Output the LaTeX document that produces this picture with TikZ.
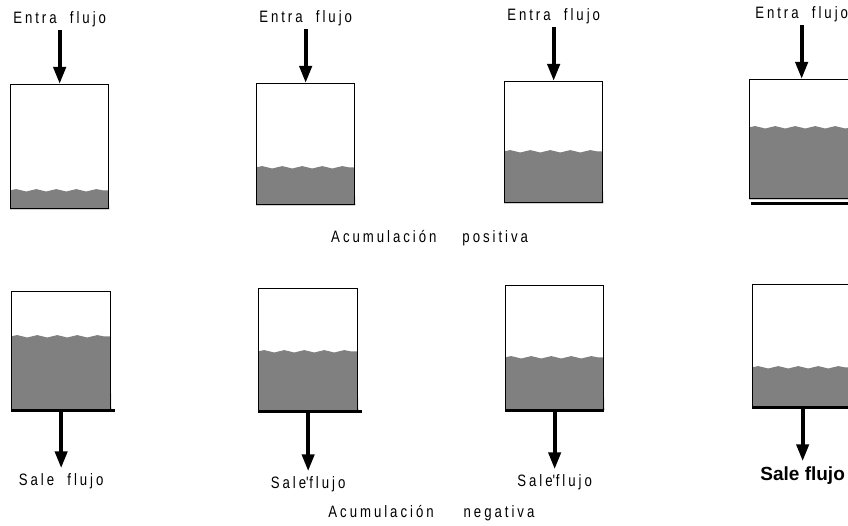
\documentclass[tikz,border=0pt]{standalone}
\usepackage{fontspec}
\setmainfont{Liberation Sans}
\newfontfamily\labfont[FakeStretch=0.8,LetterSpace=18,WordSpace=2]{Liberation Sans}
\usetikzlibrary{arrows.meta, positioning, calc, backgrounds, decorations.pathmorphing}
\tikzset{
    tank/.style={rectangle, draw=black, line width=1.3pt, inner sep=0pt, anchor=north west},
    fluid/.style={fill=black!50},
    lab/.style={font=\labfont\fontsize{16.5}{19}\selectfont, inner sep=0pt},
    flow/.style={line width=4pt, -{Triangle[width=12pt,length=17pt]}},
    base/.style={line width=3.5pt}
}

\begin{document}
\begin{tikzpicture}[x=1pt, y=1pt, node distance=57pt]
    \useasboundingbox (0,0) rectangle (848,525);
    % tanks: name/left/top/width/height/level
    \foreach \n/\x/\y/\w/\h/\l in {t1/10/441/98/124/19, t2/256/442/98/121/38,
        t3/504/444/98/121/52, t4/749/446/104/119/72, t5/11/234/99/118/74,
        t6/258/237/99/122/60, t7/505/240/98/124/53, t8/752/241/100/122/40}{
        \node[tank, minimum width=\w pt, minimum height=\h pt] (\n) at (\x,\y) {};
        \begin{scope}[on background layer]
            \fill[fluid] (\n.south west) -- ++(0,\l)
                decorate[decoration={snake, amplitude=1.2pt, segment length=20pt}]{-- ++(\w,0)}
                -- (\n.south east) -- cycle;
        \end{scope}
    }

    \node (in1) [lab, above=of t1] {Entra flujo};
    \node (in2) [lab, above=of t2] {Entra flujo};
    \node (in3) [lab, above=of t3] {Entra flujo};
    \node (in4) [lab, above=of t4] {Entra flujo};

    \node (out5) [lab, below=63pt of t5] {Sale flujo};
    \node (out6) [lab, below=65pt of t6] {Sale\textquotesingle flujo};
    \node (out7) [lab, below=64pt of t7] {Sale\textquotesingle flujo};
    \node (out8) [lab, below=59pt of t8, font=\bfseries\fontsize{19}{22}\selectfont] {Sale flujo};

    \node (accpos) [lab] at ($(t2.south)!.5!(t3.south)+(0,-34)$) {Acumulación\hspace{26pt}positiva};
    \node (accneg) [lab] at ($(t6.south)!.5!(t7.south)+(0,-102)$) {Acumulación\hspace{30pt}negativa};

    \draw [flow] ([yshift=-3pt]in1.south) -- (t1.north);
    \draw [flow] ([yshift=-3pt]in2.south) -- (t2.north);
    \draw [flow] ([yshift=-3pt]in3.south) -- (t3.north);
    \draw [flow] ([yshift=-3pt]in4.south) -- (t4.north);
    \draw [flow] (t5.south) -- ([yshift=5pt]out5.north);
    \draw [flow] (t6.south) -- ([yshift=5pt]out6.north);
    \draw [flow] (t7.south) -- ([yshift=5pt]out7.north);
    \draw [flow] (t8.south) -- ([yshift=5pt]out8.north);

    \draw [base] ([xshift=2pt,yshift=-4pt]t4.south west) -- ([yshift=-4pt]t4.south east);
    \draw [base] (t5.south west) -- ([xshift=4pt]t5.south east);
    \draw [base] (t6.south west) -- ([xshift=4pt]t6.south east);
    \draw [base] (t7.south west) -- (t7.south east);
    \draw [base] (t8.south west) -- (t8.south east);
\end{tikzpicture}
\end{document}
